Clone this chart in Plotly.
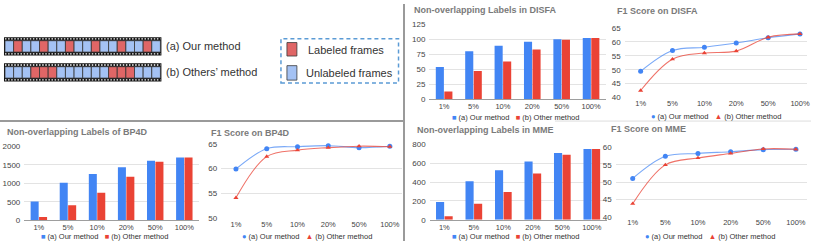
import plotly.graph_objects as go

W, H = 814, 246

# ---------------- data ----------------
categories = ["1%", "5%", "10%", "20%", "50%", "100%"]

disfa_labels_ours = [54, 80, 89, 96, 100, 102]
disfa_labels_other = [13, 47, 63, 83, 99, 102]
disfa_f1_ours = [49.4, 56.9, 58.1, 59.6, 61.5, 62.9]
disfa_f1_other = [42.5, 53.8, 56.0, 56.7, 61.7, 62.9]

bp4d_labels_ours = [510, 1015, 1250, 1435, 1608, 1695]
bp4d_labels_other = [90, 405, 745, 1180, 1580, 1695]
bp4d_f1_ours = [59.9, 64.0, 64.4, 64.6, 64.2, 64.5]
bp4d_f1_other = [54.1, 62.4, 63.7, 64.2, 64.5, 64.4]

mme_labels_ours = [190, 410, 525, 618, 708, 752]
mme_labels_other = [38, 170, 295, 490, 690, 752]
mme_f1_ours = [51.1, 57.5, 58.3, 58.8, 59.4, 59.5]
mme_f1_other = [43.8, 55.0, 57.0, 58.3, 59.6, 59.5]

disfa_bar_ticks = [0, 25, 50, 75, 100, 125]
disfa_f1_ticks = [40, 45, 50, 55, 60, 65]
bp4d_bar_ticks = [0, 500, 1000, 1500, 2000]
bp4d_f1_ticks = [50, 55, 60, 65]
mme_bar_ticks = [0, 200, 400, 600, 800]
mme_f1_ticks = [40, 45, 50, 55, 60]

series_names = ["(a) Our method", "(b) Other method"]

# frame patterns for the illustration (L = labeled, U = unlabeled)
frames_ours = list("ULUULUULUULUULUULU")
frames_others = list("UUULLLUUUUUULLLUUU")
illus_texts = ["(a) Our method", "(b) Others\u2019 method"]
legend_texts = ["Labeled frames", "Unlabeled frames"]

# ---------------- style ----------------
FONT = "Liberation Sans, Arial, sans-serif"
BLUE = "#4285f4"
RED = "#ea4335"
CELL_RED = "#e06666"
CELL_BLUE = "#a4c2f4"
GRID = "#e3e3e3"


def X(px):
    return px / W


def Y(py):
    return 1 - py / H


panels = [
    dict(kind="bar", title="Non-overlapping Labels in DISFA", a=disfa_labels_ours, b=disfa_labels_other,
         xd=(431, 608), yd=(21, 99), yr=(0, 125), yt=disfa_bar_ticks, xr=(-0.5, 5.5),
         tpos=(414, 6), lpos=(517, 117.5)),
    dict(kind="line", title="F1 Score on DISFA", a=disfa_f1_ours, b=disfa_f1_other,
         xd=(627, 810), yd=(25, 97), yr=(40, 65), yt=disfa_f1_ticks, xr=(-0.5, 5.22),
         tpos=(617, 7), lpos=(719, 117)),
    dict(kind="bar", title="Non-overlapping Labels of BP4D", a=bp4d_labels_ours, b=bp4d_labels_other,
         xd=(24.4, 199.6), yd=(147.7, 224.5), yr=(0, 2000), yt=bp4d_bar_ticks, xr=(-0.5, 5.5),
         tpos=(5, 133), lpos=(105, 241)),
    dict(kind="line", title="F1 Score on BP4D", a=bp4d_f1_ours, b=bp4d_f1_other,
         xd=(222, 403), yd=(145, 222.3), yr=(50, 65), yt=bp4d_f1_ticks, xr=(-0.48, 5.38),
         tpos=(210, 134), lpos=(308, 241)),
    dict(kind="bar", title="Non-overlapping Labels in MME", a=mme_labels_ours, b=mme_labels_other,
         xd=(431.2, 608.8), yd=(145.7, 224), yr=(0, 800), yt=mme_bar_ticks, xr=(-0.5, 5.5),
         tpos=(417, 131), lpos=(517, 241)),
    dict(kind="line", title="F1 Score on MME", a=mme_f1_ours, b=mme_f1_other,
         xd=(618, 810), yd=(149, 221), yr=(40, 60), yt=mme_f1_ticks, xr=(-0.52, 5.34),
         tpos=(611, 130), lpos=(713, 241)),
]

fig = go.Figure()
layout = dict(
    width=W, height=H, margin=dict(l=0, r=0, t=0, b=0),
    paper_bgcolor="white", plot_bgcolor="white", showlegend=False,
    bargap=0.42, bargroupgap=0.05, barmode="group",
    font=dict(family=FONT, size=8, color="#444"),
)
annotations = []
shapes = []

for i, p in enumerate(panels):
    n = "" if i == 0 else str(i + 1)
    xa, ya = "x" + n, "y" + n
    if p["kind"] == "bar":
        fig.add_trace(go.Bar(x=categories, y=p["a"], name=series_names[0], marker_color=BLUE,
                             marker_line_width=0, xaxis=xa, yaxis=ya, offsetgroup="a" + n))
        fig.add_trace(go.Bar(x=categories, y=p["b"], name=series_names[1], marker_color=RED,
                             marker_line_width=0, xaxis=xa, yaxis=ya, offsetgroup="b" + n))
        sym_a, sym_b = "\u25a0", "\u25a0"
    else:
        fig.add_trace(go.Scatter(x=categories, y=p["a"], name=series_names[0], mode="lines+markers",
                                 line=dict(color="rgba(66,133,244,0.7)", width=1.1, shape="spline", smoothing=1.0),
                                 marker=dict(color=BLUE, size=5, symbol="circle"),
                                 xaxis=xa, yaxis=ya, cliponaxis=False))
        fig.add_trace(go.Scatter(x=categories, y=p["b"], name=series_names[1], mode="lines+markers",
                                 line=dict(color="rgba(234,67,53,0.75)", width=1.1, shape="spline", smoothing=1.0),
                                 marker=dict(color=RED, size=4.5, symbol="triangle-up"),
                                 xaxis=xa, yaxis=ya, cliponaxis=False))
        sym_a, sym_b = "\u25cf", "\u25b2"
    layout["xaxis" + n] = dict(
        domain=[X(p["xd"][0]), X(p["xd"][1])], anchor=ya, type="category",
        categoryorder="array", categoryarray=categories, range=list(p["xr"]),
        showgrid=False, zeroline=False, ticks="", showline=(p["kind"] == "bar"),
        linecolor="#9e9e9e", linewidth=1, tickfont=dict(size=7.5, color="#444"), fixedrange=True,
        ticklabelstandoff=0,
    )
    layout["yaxis" + n] = dict(
        domain=[Y(p["yd"][1]), Y(p["yd"][0])], anchor=xa, range=list(p["yr"]),
        tickvals=p["yt"], showgrid=True, gridcolor=GRID, gridwidth=1, zeroline=False,
        ticks="", tickfont=dict(size=8, color="#444"), ticklabelstandoff=3, fixedrange=True,
    )
    annotations.append(dict(
        text="<b>" + p["title"] + "</b>", x=X(p["tpos"][0]), y=Y(p["tpos"][1]),
        xref="paper", yref="paper", xanchor="left", yanchor="middle", showarrow=False,
        font=dict(family=FONT, size=9, color="#7a7a7a"),
    ))
    sp = "\u00a0"
    leg = (f'<span style="color:{BLUE}">{sym_a}</span>{sp}{series_names[0]}{sp*3}'
           f'<span style="color:{RED}">{sym_b}</span>{sp}{series_names[1]}')
    annotations.append(dict(
        text=leg, x=X(p["lpos"][0]), y=Y(p["lpos"][1]), xref="paper", yref="paper",
        xanchor="center", yanchor="middle", showarrow=False, borderpad=0,
        font=dict(family=FONT, size=7.5, color="#333"),
    ))

# ---------------- illustration (top-left) ----------------
def film_strip(pattern, y0, y1, x0=5, x1=161):
    border = 3.6
    shapes.append(dict(type="rect", xref="paper", yref="paper", x0=X(x0 - 1), x1=X(x1 + 1),
                       y0=Y(y1), y1=Y(y0), fillcolor="#111", line=dict(width=0)))
    for yy in (y0 + border / 2, y1 - border / 2):
        shapes.append(dict(type="line", xref="paper", yref="paper", x0=X(x0), x1=X(x1),
                           y0=Y(yy), y1=Y(yy), line=dict(color="white", width=1.3, dash="1.5px,1.6px")))
    cw = (x1 - x0) / len(pattern)
    for k, f in enumerate(pattern):
        shapes.append(dict(type="rect", xref="paper", yref="paper",
                           x0=X(x0 + k * cw), x1=X(x0 + (k + 1) * cw),
                           y0=Y(y1 - border), y1=Y(y0 + border),
                           fillcolor=CELL_RED if f == "L" else CELL_BLUE,
                           line=dict(color="#3a3a3a", width=0.8)))


film_strip(frames_ours, 34.5, 53.5)
film_strip(frames_others, 61.5, 80.5)
for t, yy in zip(illus_texts, (44, 71)):
    annotations.append(dict(text=t, x=X(165), y=Y(yy), xref="paper", yref="paper", xanchor="left",
                            yanchor="middle", showarrow=False, font=dict(family=FONT, size=11, color="#333")))

shapes.append(dict(type="rect", xref="paper", yref="paper", x0=X(282), x1=X(400), y0=Y(82), y1=Y(36),
                   line=dict(color="#5b9bd5", width=1.5, dash="4px,3px"), fillcolor="rgba(0,0,0,0)"))
for (yy0, yy1), col in zip(((40, 54), (64, 79)), (CELL_RED, CELL_BLUE)):
    shapes.append(dict(type="rect", xref="paper", yref="paper", x0=X(288), x1=X(298), y0=Y(yy1), y1=Y(yy0),
                       fillcolor=col, line=dict(color="#3a3a3a", width=0.8)))
for t, xx, yy in zip(legend_texts, (307, 305), (47.5, 71.5)):
    annotations.append(dict(text=t, x=X(xx), y=Y(yy), xref="paper", yref="paper", xanchor="left",
                            yanchor="middle", showarrow=False, font=dict(family=FONT, size=11, color="#333")))

# ---------------- separators ----------------
shapes.append(dict(type="line", xref="paper", yref="paper", x0=X(405.5), x1=X(405.5), y0=0, y1=1,
                   line=dict(color="#9a9a9a", width=2)))
shapes.append(dict(type="line", xref="paper", yref="paper", x0=0, x1=X(405.5), y0=Y(121.5), y1=Y(121.5),
                   line=dict(color="#9a9a9a", width=2)))
shapes.append(dict(type="line", xref="paper", yref="paper", x0=X(557), x1=1, y0=Y(121.5), y1=Y(121.5),
                   line=dict(color="#dddddd", width=1)))

layout["annotations"] = annotations
layout["shapes"] = shapes
fig.update_layout(**layout)
fig.write_html(
    "out.html",
    config={"displayModeBar": False},
    post_script="document.body.style.margin='0';document.body.style.overflow='hidden';",
)
